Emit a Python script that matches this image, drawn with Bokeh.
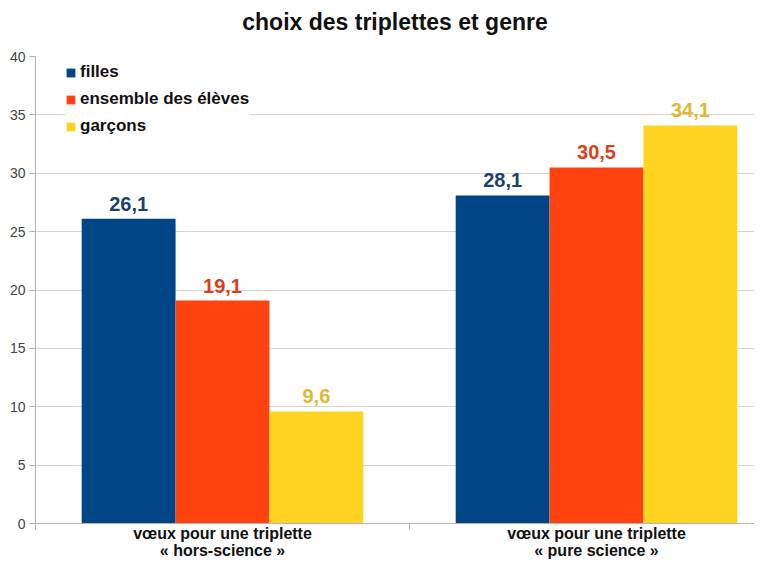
from bokeh.plotting import figure
from bokeh.models import (ColumnDataSource, Range1d, FixedTicker, LabelSet, Legend, LegendItem, Title)
from bokeh.core.properties import value
from bokeh.transform import dodge
from bokeh.embed import file_html
from bokeh.resources import INLINE

# ---- data ----
title_text = "choix des triplettes et genre"
categories = ["vœux pour une triplette\n« hors-science »",
              "vœux pour une triplette\n« pure science »"]
series_names = ["filles", "ensemble des élèves", "garçons"]
filles = [26.1, 28.1]
ensemble = [19.1, 30.5]
garcons = [9.6, 34.1]
y_ticks = [0, 5, 10, 15, 20, 25, 30, 35, 40]

colors = ["#004586", "#ff420e", "#ffd320"]
label_colors = ["#1c3f70", "#d9401a", "#e0b930"]

xpos = [i + 0.5 for i in range(len(categories))]
src = ColumnDataSource(dict(
    x=xpos,
    filles=filles, ensemble=ensemble, garcons=garcons,
    filles_t=[f"{v:.1f}".replace(".", ",") for v in filles],
    ensemble_t=[f"{v:.1f}".replace(".", ",") for v in ensemble],
    garcons_t=[f"{v:.1f}".replace(".", ",") for v in garcons],
))

FONT = "Liberation Sans"
W, H = 754, 561
LEFT = 35
FRAME_W = W - LEFT

p = figure(width=W, height=H, output_backend="svg", toolbar_location=None,
           x_range=Range1d(0, FRAME_W / 374.0), y_range=Range1d(0, 40),
           min_border_left=LEFT, min_border_right=0, min_border_top=0,
           min_border_bottom=0)
p.title = None
p.outline_line_color = None
p.background_fill_color = "white"
p.border_fill_color = "white"

# spacer between title and plot area (closest to the frame)
spacer = Title(text=" ", text_font_size="2px", standoff=12)
p.add_layout(spacer, "above")
main_title = Title(text=title_text, align="center", standoff=12,
                   text_font=FONT, text_font_size="23px", text_font_style="bold",
                   text_color="#111111")
p.add_layout(main_title, "above")

bw = 0.251
keys = ["filles", "ensemble", "garcons"]
offsets = [-bw, 0.0, bw]
renderers = []
for k, off, c, lc in zip(keys, offsets, colors, label_colors):
    r = p.vbar(x=dodge("x", off, range=p.x_range), top=k, width=bw, bottom=0,
               source=src, fill_color=c, line_color=None)
    renderers.append(r)
    ls = LabelSet(x=dodge("x", off, range=p.x_range), y=k, text=k + "_t", source=src,
                  text_align="center", text_baseline="bottom", y_offset=8,
                  text_font=value(FONT), text_font_style="bold", text_font_size="20px",
                  text_color=lc)
    p.add_layout(ls)

legend = Legend(items=[LegendItem(label=n, renderers=[r]) for n, r in zip(series_names, renderers)],
                location=(30, 387), orientation="vertical")
legend.label_text_font = FONT
legend.label_text_font_style = "bold"
legend.label_text_font_size = "17px"
legend.label_text_color = "#111111"
legend.glyph_width = 11
legend.glyph_height = 11
legend.label_standoff = 4
legend.label_height = 20
legend.spacing = 7
legend.padding = 7
legend.margin = 0
legend.border_line_color = None
legend.background_fill_color = "white"
legend.background_fill_alpha = 1
p.add_layout(legend)

# y axis
p.yaxis.ticker = FixedTicker(ticks=y_ticks)
p.yaxis.major_tick_out = 6
p.yaxis.major_tick_in = 0
p.yaxis.minor_tick_line_color = None
p.yaxis.major_tick_line_color = "#b3b3b3"
p.yaxis.axis_line_color = "#b3b3b3"
p.yaxis.major_label_text_font = FONT
p.yaxis.major_label_text_font_size = "14px"
p.yaxis.major_label_text_color = "#444444"
p.yaxis.major_label_standoff = 4

# x axis
p.xaxis.ticker = FixedTicker(ticks=xpos, minor_ticks=[0, 1, 2])
p.xaxis.major_label_overrides = {x: c for x, c in zip(xpos, categories)}
p.xaxis.major_tick_line_color = None
p.xaxis.major_tick_out = 0
p.xaxis.major_tick_in = 0
p.xaxis.minor_tick_out = 6
p.xaxis.minor_tick_in = 0
p.xaxis.minor_tick_line_color = "#b3b3b3"
p.xaxis.axis_line_color = "#b3b3b3"
p.xaxis.major_label_text_font = FONT
p.xaxis.major_label_text_font_style = "bold"
p.xaxis.major_label_text_font_size = "16px"
p.xaxis.major_label_text_color = "#111111"
p.xaxis.major_label_text_line_height = 1.0
p.xaxis.major_label_standoff = -5

p.xgrid.grid_line_color = None
p.ygrid.grid_line_color = "#d4d4d4"
p.ygrid.ticker = FixedTicker(ticks=y_ticks)

open("out.html", "w").write(file_html(p, INLINE))
